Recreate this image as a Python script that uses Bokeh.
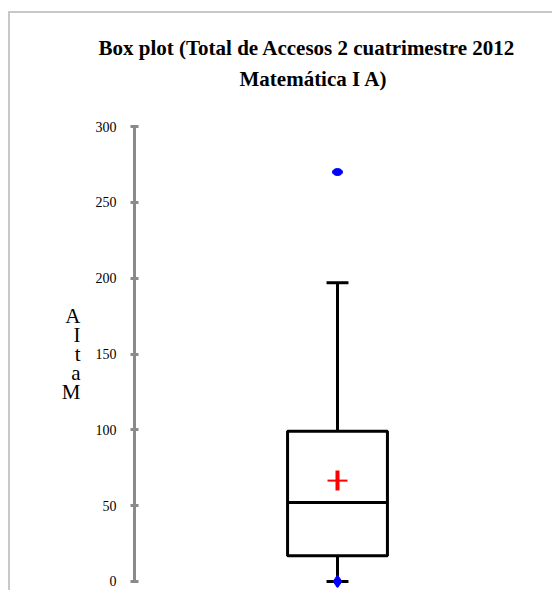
from bokeh.plotting import figure
from bokeh.models import Range1d, FixedTicker, Title
from bokeh.embed import file_html
from bokeh.resources import INLINE

# ---- data ----
title_line1 = "Box plot (Total de Accesos 2 cuatrimestre 2012"
title_line2 = "Matemática I A)"
y_label = "A\nI\nt\na\nM"
y_ticks = [0, 50, 100, 150, 200, 250, 300]
box_x = [0.5]
q1 = [17]
median = [52]
q3 = [99]
mean = [66.5]
whisker_low = [0]
whisker_high = [197]
minimum = [0]
outliers = [270]

box_w = 0.246
cap_w = 0.054
serif = "Liberation Serif"

p = figure(width=544, height=579, x_range=Range1d(0, 1), y_range=Range1d(-4, 304),
           output_backend="svg", toolbar_location=None, x_axis_location=None,
           min_border_left=124, min_border_right=14, min_border_top=107,
           min_border_bottom=5, title=title_line1)
p.styles = {"border-left": "2px solid #c8c8c8", "border-top": "2px solid #c8c8c8",
            "margin-top": "11px", "margin-left": "8px"}
p.outline_line_color = None
p.grid.visible = False
p.background_fill_color = "white"
p.border_fill_color = "white"

p.title.text_font = serif
p.title.text_font_size = "21px"
p.title.text_font_style = "bold"
p.title.text_color = "black"
p.title.align = "left"
p.title.offset = -36
p.title.standoff = 10
spacer = Title(text=" ", text_font_size="1px", standoff=27)
p.add_layout(spacer, "above")
t2 = Title(text=title_line2, text_font=serif, text_font_size="21px",
           text_font_style="bold", text_color="black", align="left",
           offset=105, standoff=0)
p.add_layout(t2, "above")

ax = p.yaxis[0]
ax.ticker = FixedTicker(ticks=y_ticks)
ax.bounds = (0, 300)
ax.axis_line_color = "#8a8a8a"
ax.axis_line_width = 3
ax.major_tick_line_color = "#8a8a8a"
ax.major_tick_line_width = 3
ax.major_tick_in = 4
ax.major_tick_out = 4
ax.minor_tick_line_color = None
ax.major_label_text_font = serif
ax.major_label_text_font_size = "14px"
ax.major_label_text_color = "black"
ax.major_label_standoff = 14
ax.axis_label = y_label
ax.axis_label_orientation = "horizontal"
ax.axis_label_text_font = serif
ax.axis_label_text_font_size = "21px"
ax.axis_label_text_font_style = "normal"
ax.axis_label_text_color = "black"
ax.axis_label_text_line_height = 0.8
ax.axis_label_standoff = 12

# whiskers
p.segment(x0=box_x, y0=q3, x1=box_x, y1=whisker_high, line_color="black", line_width=3)
p.segment(x0=box_x, y0=q1, x1=box_x, y1=whisker_low, line_color="black", line_width=3)
p.segment(x0=[x - cap_w / 2 for x in box_x], y0=whisker_high,
          x1=[x + cap_w / 2 for x in box_x], y1=whisker_high, line_color="black", line_width=3)
p.segment(x0=[x - cap_w / 2 for x in box_x], y0=whisker_low,
          x1=[x + cap_w / 2 for x in box_x], y1=whisker_low, line_color="black", line_width=3)
# box
p.quad(left=[x - box_w / 2 for x in box_x], right=[x + box_w / 2 for x in box_x],
       bottom=q1, top=q3, fill_color="white", line_color="black", line_width=3)
p.segment(x0=[x - box_w / 2 for x in box_x], y0=median,
          x1=[x + box_w / 2 for x in box_x], y1=median, line_color="black", line_width=3)
# mean cross
p.scatter(x=box_x, y=mean, marker="dash", size=20, line_color="red", line_width=2)
p.scatter(x=box_x, y=mean, marker="dash", size=20, angle=1.5708, line_color="red", line_width=4)
# minimum and outliers
p.scatter(x=box_x, y=minimum, marker="diamond", size=13, fill_color="blue", line_color="blue")
p.ellipse(x=box_x * len(outliers), y=outliers, width=10, height=7,
          width_units="screen", height_units="screen", fill_color="blue", line_color="blue")

open("out.html", "w").write(file_html(p, INLINE))
